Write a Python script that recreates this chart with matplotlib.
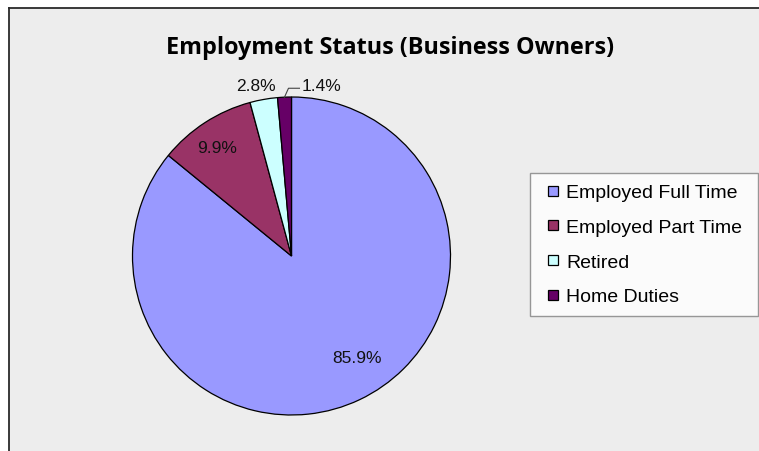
import matplotlib
matplotlib.use("Agg")
import matplotlib.pyplot as plt
from matplotlib.patches import Rectangle
from matplotlib.lines import Line2D
import numpy as np

# Data
categories = ["Employed Full Time", "Employed Part Time", "Retired", "Home Duties"]
shares = [85.9, 9.9, 2.8, 1.4]
colors = ["#9999FF", "#993366", "#CCFFFF", "#660066"]
title = "Employment Status (Business Owners)"

# Label anchor points (axes data units, pie radius = 1)
label_pos = [(0.415, -0.64), (-0.47, 0.685), (-0.223, 1.075), (0.186, 1.075)]

W, H, DPI = 759, 452, 100
fig = plt.figure(figsize=(W / DPI, H / DPI), dpi=DPI, facecolor="white")

# Chart area background and frame
fx, fy = 8.5 / W, 8.5 / H
fig.patches.append(Rectangle((fx, 0), 1 - fx, 1 - fy, transform=fig.transFigure,
                             facecolor="#EDEDED", edgecolor="none", zorder=-5))
fig.lines.append(Line2D([fx, fx], [0, 1 - fy], transform=fig.transFigure,
                        color="#2a2a2a", lw=1.3))
fig.lines.append(Line2D([fx, 1], [1 - fy, 1 - fy], transform=fig.transFigure,
                        color="#2a2a2a", lw=1.3))

# Pie axes
cx, cy, r = 291.5, 257.0, 159.0
ax = fig.add_axes([(cx - r) / W, (H - cy - r) / H, 2 * r / W, 2 * r / H])
ax.set_facecolor("none")
ax.axis("off")

wedges, _ = ax.pie(shares, colors=colors, startangle=90, counterclock=False,
                   wedgeprops=dict(edgecolor="black", linewidth=0.9))
ax.set_xlim(-1, 1)
ax.set_ylim(-1, 1)
ax.set_aspect("equal")

for val, (lx, ly) in zip(shares, label_pos):
    ax.text(lx, ly, f"{val:.1f}%", ha="center", va="center",
            fontsize=12.5, family="Liberation Sans", color="#111111", clip_on=False)

# Leader line for the smallest slice
w = wedges[-1]
mid = np.deg2rad((w.theta1 + w.theta2) / 2)
x0, y0 = np.cos(mid), np.sin(mid)
ax.plot([x0, x0 + 0.025, 0.05], [y0, 1.055, 1.055], color="#444444", lw=0.8,
        clip_on=False)

# Title
fig.text(390.5 / W, 1 - 48 / H, title, ha="center", va="center",
         fontsize=16.8, fontweight="bold", family="Open Sans", color="black")

# Legend
handles = [Line2D([], [], marker="s", linestyle="none", markersize=7.2,
                  markerfacecolor=c, markeredgecolor="black", markeredgewidth=0.9)
           for c in colors]
leg = fig.legend(handles, categories, loc="upper left",
                 bbox_to_anchor=(530 / W, 1 - 314 / H, 228 / W, 140 / H),
                 mode="expand", borderaxespad=0, fancybox=False, shadow=False,
                 frameon=True, prop={"family": "Liberation Sans", "size": 14},
                 handlelength=1.3, handletextpad=0.0,
                 labelspacing=0.88, borderpad=0.55)
leg.get_frame().set_edgecolor("#808080")
leg.get_frame().set_facecolor("white")
leg.get_frame().set_linewidth(1.0)

fig.savefig("out.png", dpi=DPI, facecolor="white")
